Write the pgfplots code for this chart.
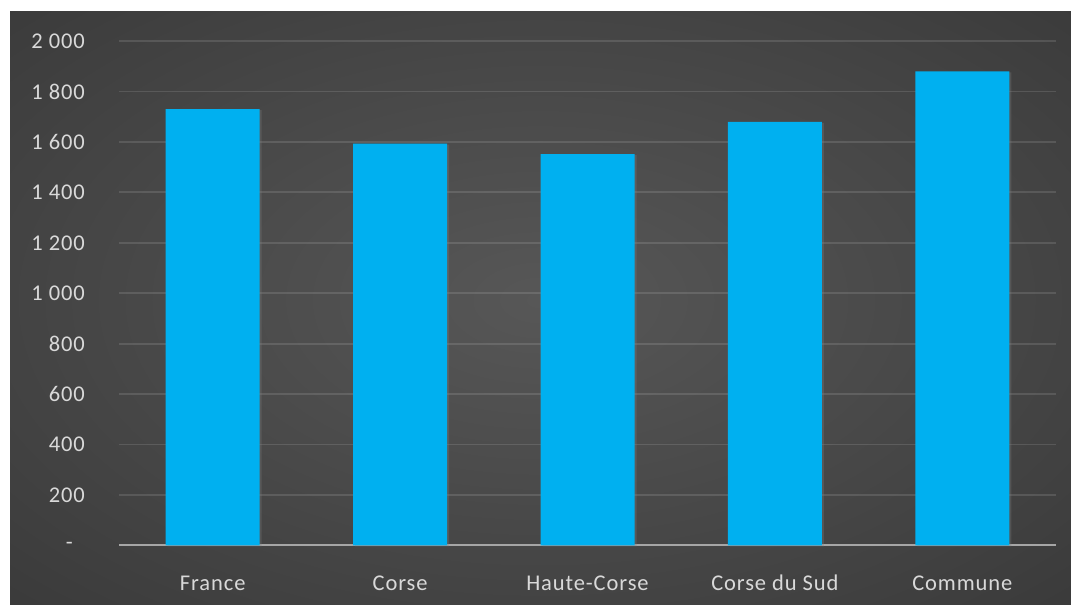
\documentclass[border=0pt]{standalone}
\usepackage{fontspec}
\setmainfont{Carlito}
\usepackage{pgfplots}
\pgfplotsset{compat=1.18}
\usetikzlibrary{shadows}
\definecolor{barblue}{HTML}{00B0F0}
\definecolor{bgin}{HTML}{575757}
\definecolor{bgmid}{HTML}{3E3E3E}
\definecolor{bgout}{HTML}{1C1C1C}
\definecolor{txt}{HTML}{D9D9D9}
\definecolor{zeroline}{HTML}{A6A6A6}
\pgfdeclareradialshading{chartbg}{\pgfpoint{0bp}{0bp}}{color(0bp)=(bgin); color(22bp)=(bgmid); color(50bp)=(bgout)}
\newfontfamily\labelfont[LetterSpace=4]{Carlito}

\begin{document}
\begin{tikzpicture}
  \useasboundingbox (0pt,0pt) rectangle (1071pt,605pt);
  \fill[white] (0pt,0pt) rectangle (1071pt,605pt);
  \begin{scope}
    \clip (10pt,0pt) rectangle (1071pt,593pt);
    \shade[shading=chartbg] (540pt,305pt) ellipse [x radius=760pt, y radius=430pt];
  \end{scope}
  \begin{axis}[
      at={(119pt,59.5pt)}, anchor=south west,
      scale only axis,
      width=937pt, height=504.5pt,
      ybar,
      bar width=94pt,
      xmin=-0.5, xmax=4.5,
      ymin=0, ymax=2000,
      axis line style={draw=none},
      tick style={draw=none},
      xtick={0,1,2,3,4},
      xticklabels={France,Corse,Haute-Corse,Corse du Sud,Commune},
      ytick={0,200,...,2000},
      yticklabels={{-\hspace*{12pt}},200,400,600,800,1 000,1 200,1 400,1 600,1 800,2 000},
      extra y ticks={0},
      extra y tick labels={},
      extra y tick style={grid style={draw=zeroline, opacity=1, line width=2pt}},
      ymajorgrids,
      grid style={draw=white, opacity=0.12, line width=1.8pt},
      ticklabel style={font=\labelfont\fontsize{22.5}{26}\selectfont, text=txt, inner sep=0pt},
      yticklabel style={anchor=east, xshift=-34pt},
      xticklabel style={anchor=base, yshift=-40.5pt},
      clip=false,
    ]
    \addplot[fill=barblue, draw=none,
      drop shadow={shadow xshift=2pt, shadow yshift=-1pt, opacity=0.3}]
      coordinates {(0,1730) (1,1593) (2,1552) (3,1679) (4,1880)};
  \end{axis}
\end{tikzpicture}
\end{document}
